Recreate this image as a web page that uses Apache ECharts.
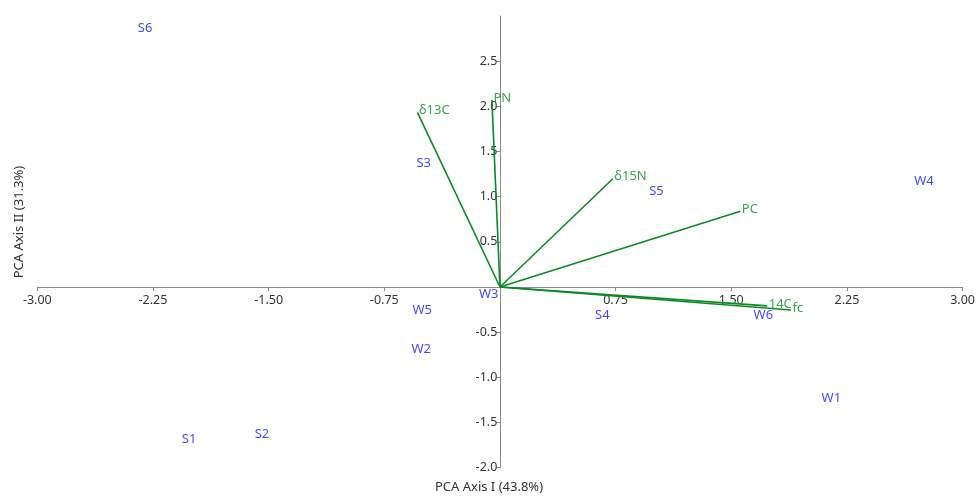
<!DOCTYPE html>
<html><head><meta charset="utf-8">
<script src="https://cdn.jsdelivr.net/npm/echarts@6/dist/echarts.min.js"></script>
<style>html,body{margin:0;padding:0;background:#fff}#c{width:978px;height:497px}</style>
</head><body><div id="c"></div>
<script>
// Sample scores (blue labels)
const sampleNames = ['S1','S2','S3','S4','S5','S6','W1','W2','W3','W4','W5','W6'];
const sampleX = [-2.016, -1.543, -0.494, 0.664, 1.015, -2.301, 2.149, -0.511, -0.073, 2.750, -0.504, 1.708];
const sampleY = [-1.687, -1.632, 1.367, -0.309, 1.058, 2.867, -1.235, -0.684, -0.077, 1.169, -0.254, -0.309];
// Variable loadings (green vectors)
const varNames = ['δ13C','PN','δ15N','PC','14C','fc'];
const varX = [-0.535, -0.052, 0.732, 1.559, 1.733, 1.888];
const varY = [1.933, 2.070, 1.198, 0.838, -0.209, -0.254];
// Axis ranges
const xMin = -3, xMax = 3, xStep = 0.75;
const yMin = -2, yMax = 3, yStep = 0.5;
// Axis titles
const xTitle = 'PCA Axis I (43.8%)';
const yTitle = 'PCA Axis II (31.3%)';

const FONT = 'Noto Sans';
const BLUE = '#1414ff';
const GREEN = '#0a8a26';
const W = 978, H = 497;
const G = {left: 37.3, right: 14.7, top: 16, bottom: 29.3};
const gw = W - G.left - G.right, gh = H - G.top - G.bottom;
// place axes through the origin (offset from the grid edges)
const xOffset = -gh * (0 - yMin) / (yMax - yMin);
const yOffset = -gw * (0 - xMin) / (xMax - xMin);

const chart = echarts.init(document.getElementById('c'), null, {renderer: 'canvas'});

const vecSeries = varNames.map((n, i) => ({
  type: 'line', name: n, data: [[0, 0], [varX[i], varY[i]]],
  symbol: 'none', lineStyle: {color: GREEN, width: 1.6}, z: 2, silent: true
}));

const option = {
  animation: false,
  backgroundColor: '#fff',
  grid: Object.assign({containLabel: false}, G),
  xAxis: {
    type: 'value', min: xMin, max: xMax, interval: xStep, offset: xOffset,
    axisLine: {onZero: false, lineStyle: {color: '#8a8a8a', width: 1}},
    axisTick: {show: true, length: 4, lineStyle: {color: '#8a8a8a'}},
    axisLabel: {color: '#333', fontFamily: FONT, fontSize: 12.5, margin: 7,
      formatter: v => Math.abs(v) < 1e-9 ? '' : v.toFixed(2)},
    splitLine: {show: false}
  },
  yAxis: {
    type: 'value', min: yMin, max: yMax, interval: yStep, offset: yOffset,
    axisLine: {onZero: false, lineStyle: {color: '#8a8a8a', width: 1}},
    axisTick: {show: true, length: 4, lineStyle: {color: '#8a8a8a'}},
    axisLabel: {color: '#333', fontFamily: FONT, fontSize: 12.5, margin: 3, showMaxLabel: false,
      formatter: v => Math.abs(v) < 1e-9 ? '' : v.toFixed(1)},
    splitLine: {show: false}
  },
  series: [
    ...vecSeries,
    {
      type: 'scatter', name: 'vars', z: 4, silent: true,
      data: varNames.map((n, i) => ({value: [varX[i], varY[i]], name: n})),
      symbolSize: 1, itemStyle: {color: 'rgba(0,0,0,0)'},
      label: {show: true, position: 'right', distance: 1, offset: [0, -2],
        formatter: p => p.name, color: GREEN, fontFamily: FONT, fontSize: 13}
    },
    {
      type: 'scatter', name: 'samples', z: 5, silent: true,
      data: sampleNames.map((n, i) => ({value: [sampleX[i], sampleY[i]], name: n})),
      symbolSize: 1, itemStyle: {color: 'rgba(0,0,0,0)'},
      label: {show: true, position: 'inside',
        formatter: p => p.name, color: BLUE, fontFamily: FONT, fontSize: 13}
    }
  ],
  graphic: [
    {type: 'text', left: 'center', top: 481,
      style: {text: xTitle, fill: '#333', font: '13px "Noto Sans"', textAlign: 'center'}},
    {type: 'text', x: 19, y: 222, rotation: Math.PI / 2,
      style: {text: yTitle, fill: '#333', font: '13px "Noto Sans"', textAlign: 'center', textVerticalAlign: 'middle'}}
  ]
};
chart.setOption(option);
</script></body></html>
